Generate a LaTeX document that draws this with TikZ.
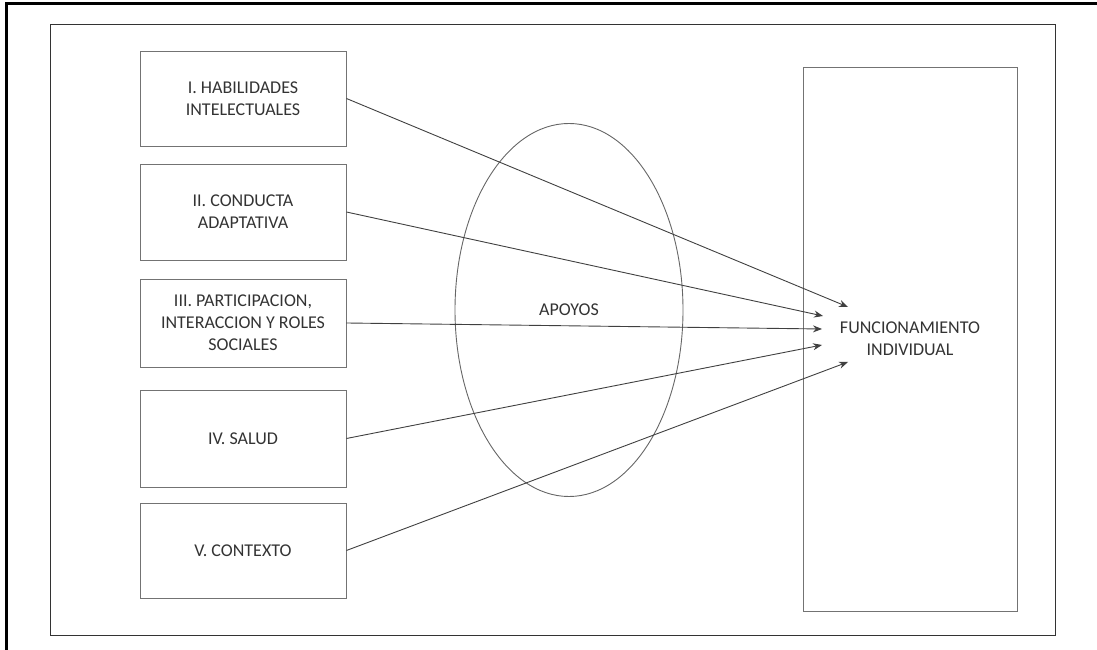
\documentclass[tikz,border=0pt]{standalone}
\usepackage{fontspec}
\setmainfont{Carlito}
\usetikzlibrary{arrows.meta, positioning, shapes.geometric}

\begin{document}
\begin{tikzpicture}[
    x=1pt, y=1pt,
    font=\fontsize{18}{22}\selectfont,
    text=black!80,
    dimension/.style={
      draw=black!55,
      line width=0.9pt,
      align=center,
      minimum width=206pt,
      inner sep=4pt
    },
    support/.style={
      draw=black!60,
      line width=0.9pt,
      ellipse,
      minimum width=228pt,
      minimum height=373pt
    },
    line/.style={-{Stealth[length=9pt, width=7pt]}, draw=black!75, line width=0.9pt}
  ]
  \useasboundingbox (0,0) rectangle (1097,650);

  % ===================== marcos =====================
  \draw[line width=3pt] (6,-10) -- (6,646) -- (1110,646);
  \draw[black!80, line width=0.9pt] (50,15) rectangle (1055,626);

  % ===================== dimensiones =====================
  \node[dimension, minimum height=95pt] (intel) at (243,551.5) {I. HABILIDADES\\INTELECTUALES};
  \node[dimension, minimum height=96pt] (conduct) at (243,438) {II. CONDUCTA\\ADAPTATIVA};
  \node[dimension, minimum height=88pt] (partic) at (243,327) {III. PARTICIPACION,\\INTERACCION Y ROLES\\SOCIALES};
  \node[dimension, minimum height=97pt] (health) at (243,211.5) {IV. SALUD};
  \node[dimension, minimum height=95pt] (context) at (243,99.5) {V. CONTEXTO};

  % ===================== apoyos y resultado =====================
  \node[support] (support) at (569,340) {APOYOS};
  \node[dimension, minimum width=214pt, minimum height=544pt] (result) at (910,311) {FUNCIONAMIENTO\\INDIVIDUAL};

  % ===================== puntas =====================
  \coordinate (t1) at (848,343);
  \coordinate (t2) at (823,334);
  \coordinate (t3) at (822,321);
  \coordinate (t4) at (822,305);
  \coordinate (t5) at (848,288);

  % ===================== flechas =====================
  \draw[line] (intel.east) -- (t1);
  \draw[line] (conduct.east) -- (t2);
  \draw[line] (partic.east) -- (t3);
  \draw[line] (health.east) -- (t4);
  \draw[line] (context.east) -- (t5);

\end{tikzpicture}
\end{document}
